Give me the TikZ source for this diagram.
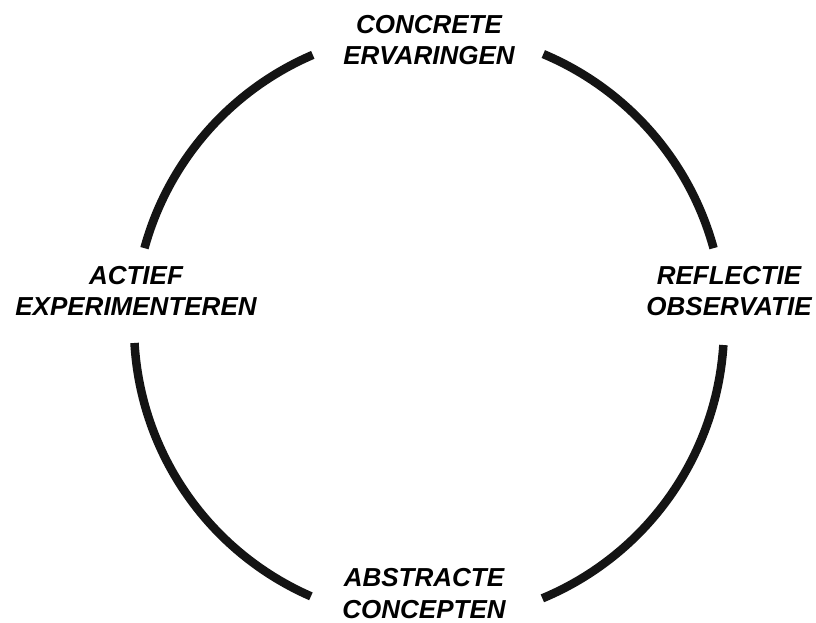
\documentclass[tikz,border=0pt]{standalone}
\usepackage{fontspec}
\setmainfont{Liberation Sans}
\begin{document}
\begin{tikzpicture}[x=1pt,y=1pt,
  cyclearc/.style={line width=8.5pt, draw=black!92, line cap=butt},
  phase/.style={font=\fontsize{26}{31.5}\selectfont\bfseries\itshape,
                align=center, inner sep=0pt, anchor=center}]
  % canvas
  \path[use as bounding box, fill=white] (0,0) rectangle (816,622);
  % centre of the learning cycle
  \coordinate (O) at (429,296);
  \def\R{295}
  % four phases
  \node[phase] (ce) at (429,582) {CONCRETE\\ERVARINGEN};
  \node[phase] (ro) at (729,331) {REFLECTIE\\OBSERVATIE};
  \node[phase] (ac) at (424,28.5) {ABSTRACTE\\CONCEPTEN};
  \node[phase] (ae) at (136,331) {ACTIEF\\EXPERIMENTEREN};
  % arcs of the cycle between the phases
  \draw[cyclearc] ([shift={(164.7:\R)}]O) arc[start angle=164.7, end angle=113.2, radius=\R];
  \draw[cyclearc] ([shift={(67.2:\R)}]O) arc[start angle=67.2, end angle=15.3, radius=\R];
  \draw[cyclearc] ([shift={(-3.7:\R)}]O) arc[start angle=-3.7, end angle=-67.4, radius=\R];
  \draw[cyclearc] ([shift={(246.4:\R)}]O) arc[start angle=246.4, end angle=183.3, radius=\R];
\end{tikzpicture}
\end{document}
